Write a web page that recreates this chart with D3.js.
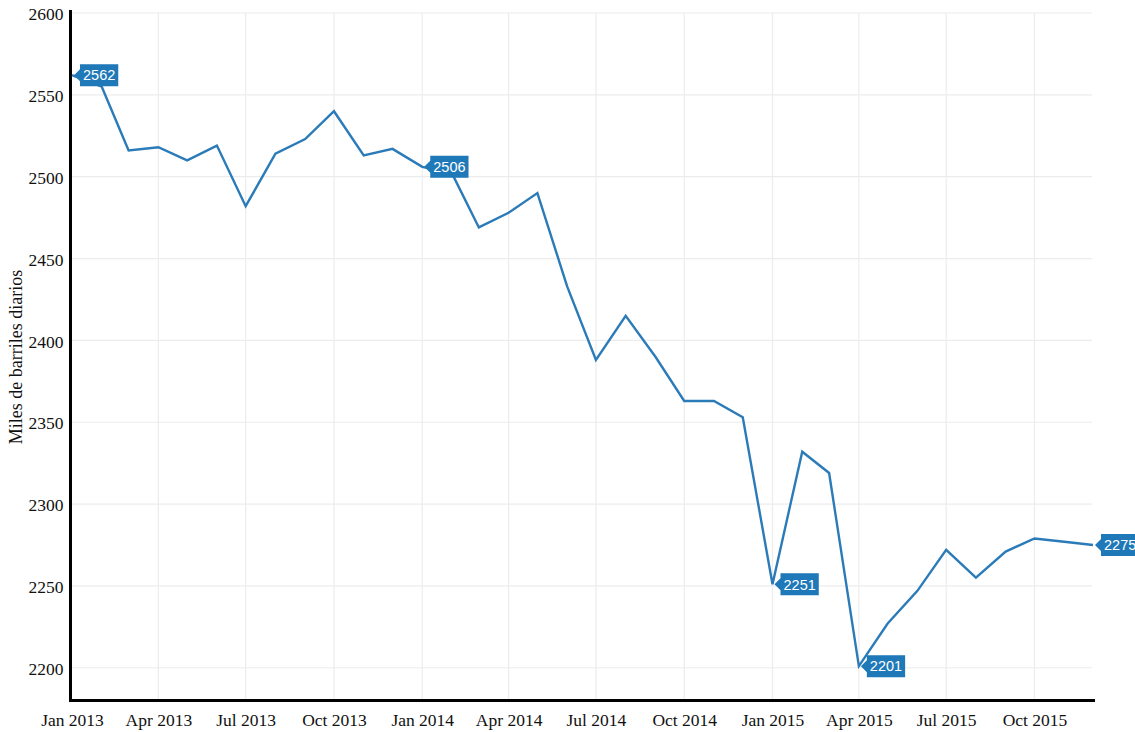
<!DOCTYPE html>
<html>
<head>
<meta charset="utf-8">
<script src="https://cdn.jsdelivr.net/npm/d3@7"></script>
<style>
body { margin: 0; background: #fff; }
.tick text { font-family: "Liberation Serif", "Times New Roman", serif; font-size: 17.5px; fill: #111; }
</style>
</head>
<body>
<div id="chart"></div>
<script>
// monthly production, miles de barriles diarios
var months = ['2013-01','2013-02','2013-03','2013-04','2013-05','2013-06','2013-07','2013-08','2013-09','2013-10','2013-11','2013-12',
              '2014-01','2014-02','2014-03','2014-04','2014-05','2014-06','2014-07','2014-08','2014-09','2014-10','2014-11','2014-12',
              '2015-01','2015-02','2015-03','2015-04','2015-05','2015-06','2015-07','2015-08','2015-09','2015-10','2015-11','2015-12'];
var values = [2562, 2555, 2516, 2518, 2510, 2519, 2482, 2514, 2523, 2540, 2513, 2517,
              2506, 2502, 2469, 2478, 2490, 2433, 2388, 2415, 2390, 2363, 2363, 2353,
              2251, 2332, 2319, 2201, 2227, 2247, 2272, 2255, 2271, 2279, 2277, 2275];
var labeledMonths = ['2013-01', '2014-01', '2015-01', '2015-04', '2015-12'];

var xTickMonths = ['2013-01','2013-04','2013-07','2013-10','2014-01','2014-04','2014-07','2014-10','2015-01','2015-04','2015-07','2015-10'];
var xTickLabels = ['Jan 2013','Apr 2013','Jul 2013','Oct 2013','Jan 2014','Apr 2014','Jul 2014','Oct 2014','Jan 2015','Apr 2015','Jul 2015','Oct 2015'];
var yTicks = [2200, 2250, 2300, 2350, 2400, 2450, 2500, 2550, 2600];
var yTitle = 'Miles de barriles diarios';

var width = 1135, height = 732;
var parseMonth = d3.timeParse('%Y-%m');

var data = months.map((m, i) => ({ date: parseMonth(m), key: m, value: values[i] }));

var svg = d3.select('#chart')
.append('svg')
.attr('width', width)
.attr('height', height);

var x = d3.scaleTime()
.domain([parseMonth('2013-01'), parseMonth('2015-12')])
.range([72, 1093]);

var y = d3.scaleLinear()
.domain([2180, 2600])
.range([700.5, 13]);

//grid lines
svg.append('g')
.selectAll('line.hgrid')
.data(yTicks)
.enter().append('line')
.attr('x1', 70).attr('x2', 1092)
.attr('y1', d => y(d)).attr('y2', d => y(d))
.attr('stroke', '#ececec').attr('stroke-width', 1.2);

svg.append('g')
.selectAll('line.vgrid')
.data(xTickMonths.slice(1))
.enter().append('line')
.attr('x1', d => x(parseMonth(d))).attr('x2', d => x(parseMonth(d)))
.attr('y1', 13).attr('y2', 700)
.attr('stroke', '#ececec').attr('stroke-width', 1.2);

//x axis
var xAxis = d3.axisBottom(x)
.tickValues(xTickMonths.map(parseMonth))
.tickFormat((d, i) => xTickLabels[i])
.tickSize(0)
.tickPadding(13);

var gx = svg.append('g')
.attr('transform', 'translate(0, 700.5)')
.call(xAxis);
gx.select('.domain').remove();
svg.append('line')
.attr('x1', 69).attr('x2', 1095)
.attr('y1', 700.5).attr('y2', 700.5)
.attr('stroke', '#000').attr('stroke-width', 3);

//y axis
var yAxis = d3.axisLeft(y)
.tickValues(yTicks)
.tickFormat(d3.format('d'))
.tickSize(0)
.tickPadding(7);

var gy = svg.append('g')
.attr('transform', 'translate(70.5, 0)')
.call(yAxis);
gy.select('.domain').remove();
gy.selectAll('.tick text').attr('dy', '0.38em');
svg.append('line')
.attr('x1', 70.5).attr('x2', 70.5)
.attr('y1', 10).attr('y2', 702)
.attr('stroke', '#000').attr('stroke-width', 3);

svg.append('text')
.attr('transform', 'translate(22, 357) rotate(-90)')
.attr('text-anchor', 'middle')
.style('font-family', '"Liberation Serif", "Times New Roman", serif')
.style('font-size', '18px')
.attr('fill', '#111')
.text(yTitle);

//the line
var line = d3.line()
.x(d => x(d.date))
.y(d => y(d.value));

svg.append('path')
.datum(data)
.attr('fill', 'none')
.attr('stroke', '#2b7bb9')
.attr('stroke-width', 2.4)
.attr('stroke-linejoin', 'miter')
.attr('d', line);

//value flags
var flags = svg.append('g')
.selectAll('g')
.data(data.filter(d => labeledMonths.indexOf(d.key) >= 0))
.enter().append('g')
.attr('transform', d => 'translate(' + x(d.date) + ',' + y(d.value) + ')');

flags.append('path').attr('class', 'flag')
.attr('fill', '#1f78b7');

flags.append('text')
.attr('x', 11)
.attr('y', 0)
.attr('dy', '0.36em')
.attr('fill', '#fff')
.style('font-family', '"Liberation Sans", Arial, sans-serif')
.style('font-size', '14.5px')
.text(d => d.value);

flags.each(function() {
    var g = d3.select(this);
    var w = g.select('text').node().getComputedTextLength() + 6;
    var h = 11;
    g.select('path.flag')
    .attr('d', 'M2,0 L8,-6 L8,' + (-h) + ' L' + (8 + w) + ',' + (-h) + ' L' + (8 + w) + ',' + h + ' L8,' + h + ' L8,6 Z');
});
</script>
</body>
</html>
